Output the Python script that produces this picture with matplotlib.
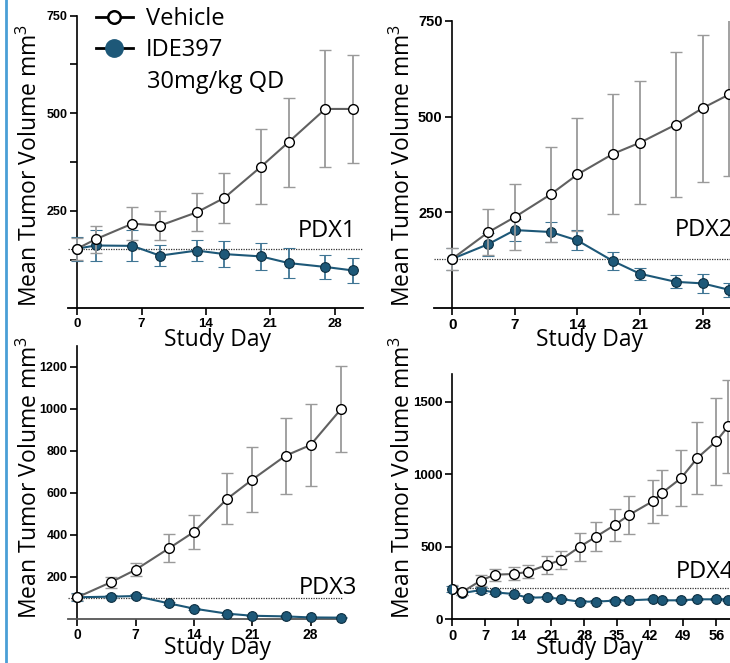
import matplotlib
matplotlib.use("Agg")
import matplotlib.pyplot as plt
from matplotlib.lines import Line2D

plt.rcParams['font.family'] = ['Open Sans', 'DejaVu Sans']
plt.rcParams['mathtext.fontset'] = 'custom'
plt.rcParams['mathtext.rm'] = 'Open Sans'

W, H = 730, 663
GREY = '#606060'
GREY_ERR = '#9a9a9a'
BLUE = '#1d5878'
BLUE_ERR = '#3f7594'

# PDX1
d1 = [0, 2, 6, 9, 13, 16, 20, 23, 27, 30]
veh1 = [153, 177, 217, 212, 246, 283, 363, 426, 511, 511]
veh1_err = [28, 34, 42, 38, 49, 65, 96, 114, 150, 138]
ide1 = [153, 161, 160, 135, 148, 139, 133, 116, 106, 97]
ide1_err = [31, 40, 40, 26, 27, 33, 35, 38, 31, 32]

# PDX2
d2 = [0, 4, 7, 11, 14, 18, 21, 25, 28, 31]
veh2 = [129, 198, 238, 297, 349, 403, 432, 479, 522, 558]
veh2_err = [28, 60, 86, 124, 148, 156, 160, 189, 192, 212]
ide2 = [129, 167, 204, 199, 177, 123, 90, 69, 65, 48]
ide2_err = [28, 30, 28, 25, 26, 24, 15, 17, 25, 18]

# PDX3
d3 = [0, 4, 7, 11, 14, 18, 21, 25, 28, 31.7]
veh3 = [102, 173, 233, 335, 413, 571, 662, 776, 827, 1000]
veh3_err = [15, 25, 32, 67, 80, 121, 154, 180, 195, 204]
ide3 = [102, 105, 108, 73, 48, 24, 14, 11, 6, 5]
ide3_err = [20, 8, 8, 6, 5, 4, 3, 3, 2, 2]

# PDX4
d4 = [0, 2, 6, 9, 13, 16, 20, 23, 27, 30.5, 34.5, 37.5, 42.5, 44.5, 48.5, 52, 56, 58.5]
veh4 = [210, 184, 265, 306, 311, 325, 373, 408, 498, 569, 650, 719, 813, 871, 972, 1113, 1228, 1330]
veh4_err = [25, 15, 40, 42, 45, 45, 60, 65, 95, 100, 110, 130, 150, 155, 195, 250, 300, 320]
ide4 = [205, 178, 200, 184, 173, 147, 150, 138, 120, 120, 127, 129, 136, 129, 129, 136, 136, 134]
ide4_err = [20, 12, 18, 12, 10, 10, 10, 8, 8, 8, 8, 8, 8, 8, 8, 8, 8, 8]

baselines = [153, 129, 100, 217]
names = ['PDX1', 'PDX2', 'PDX3', 'PDX4']

# panel layout in pixels: left, right, top, bottom, plus limits and ticks
panels = [
    dict(box=(68.1, 363.0, 15.7, 308.3), xlim=(-1, 31.1), ylim=(0, 750),
         yt=[250, 500, 750], xt=[0, 7, 14, 21, 28], minor=[125, 375, 625],
         yfs=9, xfs=9.5, lab=(298, 231), yl=(30, 166), sd=(218, 340), xcol='black'),
    dict(box=(434.4, 747.3, 20.7, 308.3), xlim=(-2, 33), ylim=(0, 750),
         yt=[250, 500, 750], xt=[0, 7, 14, 21, 28], minor=[],
         yfs=10.5, xfs=11, lab=(675, 230), yl=(403, 166), sd=(590, 340), xcol='black'),
    dict(box=(68.1, 343.0, 345.7, 618.7), xlim=(-1.1, 31.9), ylim=(0, 1300),
         yt=[200, 400, 600, 800, 1000, 1200], xt=[0, 7, 14, 21, 28], minor=[],
         yfs=9, xfs=10, lab=(299, 588), yl=(30, 478), sd=(218, 648), xcol='#555555'),
    dict(box=(452.3, 744.6, 374.3, 619.0), xlim=(0, 62), ylim=(0, 1690),
         yt=[0, 500, 1000, 1500], xt=[0, 7, 14, 21, 28, 35, 42, 49, 56], minor=[],
         yfs=9.5, xfs=10.5, lab=(676, 572), yl=(403, 478), sd=(590, 648), xcol='black'),
]

series = [(d1, veh1, veh1_err, ide1, ide1_err),
          (d2, veh2, veh2_err, ide2, ide2_err),
          (d3, veh3, veh3_err, ide3, ide3_err),
          (d4, veh4, veh4_err, ide4, ide4_err)]

fig = plt.figure(figsize=(W / 100, H / 100), dpi=100)

for p, (d, v, ve, t, te), base, name in zip(panels, series, baselines, names):
    l, r, top, b = p['box']
    ax = fig.add_axes([l / W, 1 - b / H, (r - l) / W, (b - top) / H])
    ax.set_xlim(*p['xlim'])
    ax.set_ylim(*p['ylim'])
    ax.axhline(base, color='#333333', ls=(0, (1, 1)), lw=0.9, zorder=1)
    ax.errorbar(d, t, yerr=te, color=BLUE, ecolor=BLUE_ERR, lw=1.5, elinewidth=1.3,
                capsize=4, capthick=1.3, marker='o', ms=7, mfc=BLUE, mec='#0d2f42',
                mew=0.8, zorder=3, clip_on=False)
    ax.errorbar(d, v, yerr=ve, color=GREY, ecolor=GREY_ERR, lw=1.5, elinewidth=1.3,
                capsize=4, capthick=1.3, marker='o', ms=7, mfc='white', mec='black',
                mew=1.0, zorder=4, clip_on=(name in ('PDX2', 'PDX4')))
    for s in ['top', 'right']:
        ax.spines[s].set_visible(False)
    ax.spines['left'].set_position(('data', 0))
    ax.spines['left'].set_linewidth(1.2)
    ax.spines['bottom'].set_linewidth(1.3)
    ax.spines['bottom'].set_color(p['xcol'])
    ax.set_yticks(p['yt'])
    ax.set_yticks(p['minor'], minor=True)
    ax.set_xticks(p['xt'])
    ax.tick_params(axis='both', which='major', length=5, width=1.2, direction='out', pad=2)
    ax.tick_params(axis='y', which='minor', length=5, width=1.2)
    for lbl in ax.get_yticklabels():
        lbl.set_fontfamily('Liberation Sans')
        lbl.set_fontweight('bold')
        lbl.set_fontsize(p['yfs'])
    for lbl in ax.get_xticklabels():
        lbl.set_fontfamily('Liberation Sans')
        lbl.set_fontweight('bold')
        lbl.set_fontsize(p['xfs'])
    fig.text(p['lab'][0] / W, 1 - p['lab'][1] / H, name, fontsize=17,
             ha='left', va='center')
    fig.text(p['yl'][0] / W, 1 - p['yl'][1] / H, 'Mean Tumor Volume mm$^3$',
             fontsize=16.5, rotation=90, ha='center', va='center')
    fig.text(p['sd'][0] / W, 1 - p['sd'][1] / H, 'Study Day', fontsize=16.5,
             ha='center', va='center')
    if name == 'PDX1':
        h_veh = Line2D([], [], color='black', lw=2, marker='o', ms=9,
                       mfc='white', mec='black', mew=1.8)
        h_ide = Line2D([], [], color='black', lw=2, marker='o', ms=12.5,
                       mfc=BLUE, mec=BLUE)
        fig.legend([h_veh, h_ide], ['Vehicle', 'IDE397'], loc='upper left',
                   bbox_to_anchor=(96 / W, 1 - 7 / H), frameon=False, fontsize=17,
                   handlelength=1.55, handletextpad=0.55, labelspacing=0.3,
                   borderpad=0, borderaxespad=0)
        fig.text(147 / W, 1 - 82 / H, '30mg/kg QD', fontsize=17, ha='left', va='center')

fig.add_artist(Line2D([5.5 / W, 5.5 / W], [0, 1], color='#4a9fd6', lw=2))

fig.savefig('out.png', dpi=100)
